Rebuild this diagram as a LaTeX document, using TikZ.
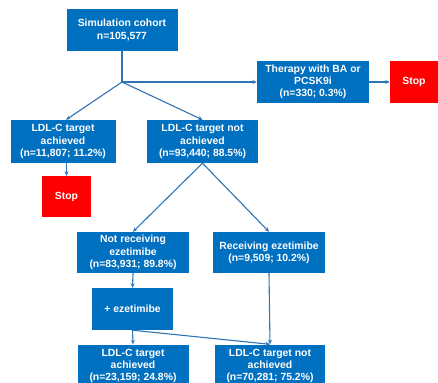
\documentclass[tikz,border=0pt]{standalone}
\usepackage{fontspec}
\setmainfont{Liberation Sans}
\usetikzlibrary{arrows.meta}
\definecolor{boxblue}{RGB}{0,112,192}
\definecolor{lineblue}{RGB}{46,117,182}
\definecolor{stopred}{RGB}{255,0,0}
\begin{document}
\begin{tikzpicture}[x=1pt,y=-1pt,
  box/.style={fill=boxblue, draw=none, text=white, align=center,
    font=\fontsize{10.4}{12.3}\selectfont\bfseries, inner sep=2pt},
  stopbox/.style={fill=stopred, draw=none, text=white, align=center,
    font=\fontsize{10.4}{12.3}\selectfont\bfseries, inner sep=2pt},
  link/.style={draw=lineblue, line width=1.1pt},
  arr/.style={link, -{Stealth[length=4.5pt,width=4pt]}}]
\useasboundingbox (0,0) rectangle (438,382);
\clip (0,0) rectangle (438,382);
\fill[white] (0,0) rectangle (438,382);

% boxes
\node[box, minimum width=111pt, minimum height=42pt] (sim) at (122,30)
  {Simulation cohort\\n=105,577};
\node[box, minimum width=112pt, minimum height=42pt] (ther) at (313,82)
  {Therapy with BA or\\PCSK9i\\(n=330; 0.3\%)};
\node[stopbox, minimum width=48pt, minimum height=42pt] (stopR) at (414,82) {Stop};
\node[box, minimum width=105pt, minimum height=43pt] (ach1) at (63,141.5)
  {LDL-C target\\achieved\\(n=11,807; 11.2\%)};
\node[box, minimum width=111pt, minimum height=43pt] (not1) at (202.5,141.5)
  {LDL-C target not\\achieved\\(n=93,440; 88.5\%)};
\node[stopbox, minimum width=49pt, minimum height=41pt] (stopL) at (66.5,196.5) {Stop};
\node[box, minimum width=112pt, minimum height=41pt] (norec) at (133,252.5)
  {Not receiving\\ezetimibe\\(n=83,931; 89.8\%)};
\node[box, minimum width=112pt, minimum height=41pt] (rec) at (269,252.5)
  {Receiving ezetimibe\\(n=9,509; 10.2\%)};
\node[box, minimum width=81pt, minimum height=42pt] (eze) at (132.5,309)
  {+ ezetimibe};
\node[box, minimum width=111pt, minimum height=43pt] (ach2) at (133,366)
  {LDL-C target\\achieved\\(n=23,159; 24.8\%)};
\node[box, minimum width=110pt, minimum height=43pt] (not2) at (270,366)
  {LDL-C target not\\achieved\\(n=70,281; 75.2\%)};

% connectors
\coordinate (split) at (sim.south |- 0,82);
\draw[link] (sim.south) -- (split);
\draw[arr] (split) -- (ther.west);
\draw[arr] (ther.east) -- (stopR.west);
\draw[arr] (split) -- ([xshift=3pt]ach1.north);
\draw[arr] (split) -- (not1.north);
\draw[arr] (stopL.north |- ach1.south) -- (stopL.north);
\draw[arr] (not1.south) -- (norec.north);
\draw[arr] (not1.south) -- (rec.north);
\draw[arr] (norec.south) -- (eze.north);
\draw[arr] (eze.south) -- (ach2.north);
\draw[arr] (eze.south) -- (not2.north);
\draw[arr] (rec.south) -- (not2.north);
\end{tikzpicture}
\end{document}
